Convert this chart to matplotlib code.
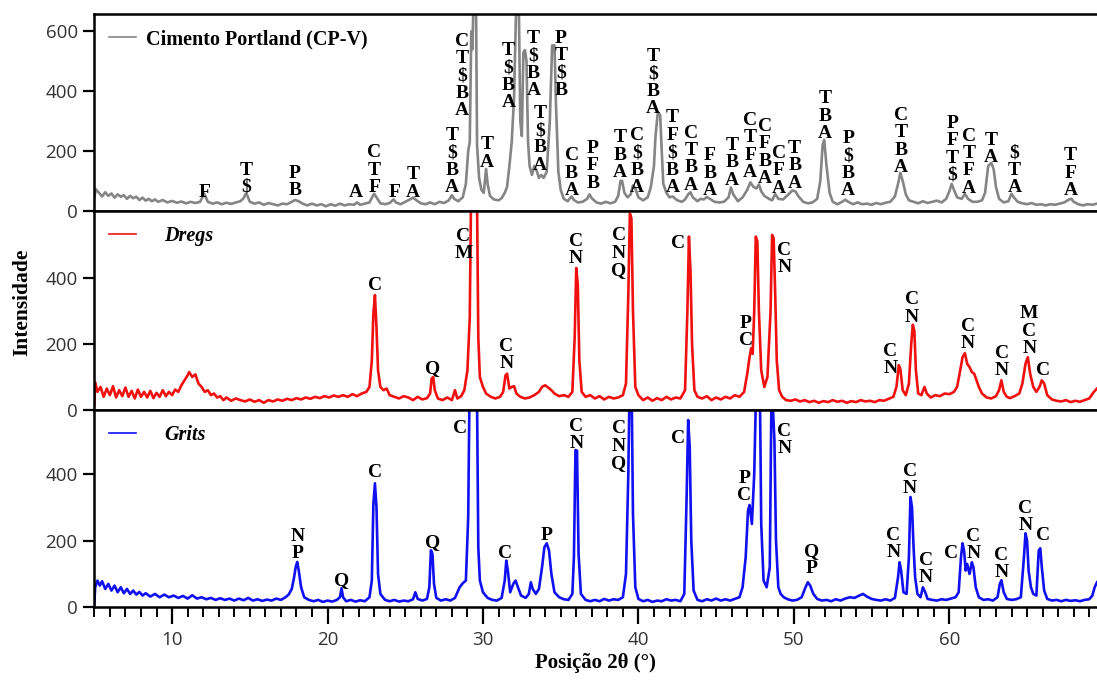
import matplotlib
matplotlib.use("Agg")
import matplotlib.pyplot as plt
from matplotlib.ticker import MultipleLocator

# padrões de DRX (2theta, contagens)
cp_pattern = [
    (5.0, 45), (5.1, 72), (5.3, 60), (5.5, 48), (5.7, 62), (5.9, 50), (6.1, 58), (6.3, 44),
    (6.5, 55), (6.7, 47), (6.9, 52), (7.1, 40), (7.3, 50), (7.5, 42), (7.7, 47), (7.9, 36),
    (8.1, 44), (8.3, 34), (8.5, 40), (8.7, 32), (8.9, 38), (9.1, 30), (9.4, 36), (9.7, 28),
    (10.0, 33), (10.3, 27), (10.6, 31), (10.9, 25), (11.2, 30), (11.5, 26), (11.8, 30),
    (11.95, 45), (12.05, 58), (12.15, 48), (12.3, 30), (12.6, 24), (12.9, 28), (13.2, 22),
    (13.5, 27), (13.8, 23), (14.1, 28), (14.4, 32), (14.6, 42), (14.75, 58), (14.85, 50),
    (15.0, 30), (15.3, 24), (15.6, 28), (15.9, 20), (16.2, 26), (16.5, 22), (16.8, 18),
    (17.1, 24), (17.4, 22), (17.7, 30), (17.9, 36), (18.1, 33), (18.4, 24), (18.7, 18),
    (19.0, 24), (19.3, 18), (19.6, 22), (19.9, 15), (20.2, 22), (20.5, 17), (20.8, 24),
    (21.1, 18), (21.4, 22), (21.7, 20), (21.9, 28), (22.1, 20), (22.4, 24), (22.7, 28),
    (22.9, 48), (23.0, 57), (23.15, 45), (23.4, 25), (23.7, 22), (24.0, 26), (24.25, 38),
    (24.4, 28), (24.7, 22), (25.0, 30), (25.3, 38), (25.5, 44), (25.7, 36), (26.0, 25),
    (26.3, 22), (26.6, 28), (26.9, 22), (27.2, 30), (27.5, 26), (27.8, 35), (28.0, 52),
    (28.15, 40), (28.4, 32), (28.7, 45), (28.9, 90), (29.05, 200), (29.15, 230), (29.25, 600),
    (29.32, 540), (29.4, 720), (29.55, 720), (29.62, 220), (29.75, 110), (29.9, 70), (30.05, 60),
    (30.2, 140), (30.3, 90), (30.45, 50), (30.7, 38), (31.0, 35), (31.2, 42), (31.4, 60),
    (31.55, 80), (31.7, 150), (31.85, 230), (32.0, 380), (32.15, 720), (32.3, 720), (32.4, 300),
    (32.5, 250), (32.6, 530), (32.7, 537), (32.8, 500), (32.9, 230), (33.0, 150), (33.15, 120),
    (33.3, 150), (33.45, 135), (33.6, 110), (33.75, 120), (33.9, 110), (34.1, 130), (34.3, 300),
    (34.45, 553), (34.6, 553), (34.7, 350), (34.85, 130), (35.0, 70), (35.2, 40), (35.45, 32),
    (35.6, 42), (35.7, 48), (35.85, 36), (36.1, 28), (36.4, 30), (36.7, 40), (36.85, 55),
    (37.0, 42), (37.3, 28), (37.6, 24), (37.9, 30), (38.2, 25), (38.5, 30), (38.7, 50),
    (38.85, 100), (38.95, 100), (39.1, 60), (39.3, 45), (39.5, 55), (39.65, 85), (39.8, 75),
    (40.0, 45), (40.3, 35), (40.6, 45), (40.8, 80), (41.0, 150), (41.1, 250), (41.25, 330),
    (41.4, 320), (41.5, 200), (41.6, 90), (41.8, 60), (42.0, 45), (42.2, 48), (42.5, 35),
    (42.8, 30), (43.0, 38), (43.2, 55), (43.35, 62), (43.5, 45), (43.8, 32), (44.0, 40),
    (44.2, 38), (44.4, 46), (44.6, 40), (44.9, 30), (45.2, 28), (45.5, 30), (45.8, 45),
    (45.95, 78), (46.1, 55), (46.4, 32), (46.7, 45), (47.0, 70), (47.2, 95), (47.4, 80),
    (47.6, 75), (47.75, 88), (47.9, 65), (48.1, 50), (48.4, 40), (48.6, 35), (48.8, 56),
    (49.0, 40), (49.3, 38), (49.6, 52), (49.9, 68), (50.1, 65), (50.3, 48), (50.6, 30),
    (50.9, 25), (51.2, 28), (51.5, 40), (51.7, 100), (51.85, 220), (51.95, 237), (52.1, 150),
    (52.3, 60), (52.5, 30), (52.8, 22), (53.1, 30), (53.3, 37), (53.5, 30), (53.8, 22),
    (54.1, 28), (54.4, 22), (54.7, 24), (55.0, 20), (55.3, 26), (55.6, 22), (55.9, 27),
    (56.2, 30), (56.5, 48), (56.7, 90), (56.85, 127), (57.0, 100), (57.2, 55), (57.4, 35),
    (57.7, 30), (58.0, 25), (58.3, 32), (58.6, 26), (58.9, 30), (59.2, 34), (59.5, 28),
    (59.8, 40), (60.0, 65), (60.15, 90), (60.3, 70), (60.5, 45), (60.8, 40), (61.0, 57),
    (61.2, 40), (61.5, 30), (61.8, 30), (62.1, 35), (62.3, 60), (62.5, 150), (62.7, 160),
    (62.85, 140), (63.0, 80), (63.2, 40), (63.5, 28), (63.8, 32), (64.0, 57), (64.15, 45),
    (64.4, 30), (64.7, 25), (65.0, 22), (65.3, 26), (65.6, 20), (65.9, 22), (66.2, 18),
    (66.5, 22), (66.8, 20), (67.1, 24), (67.4, 28), (67.7, 38), (67.85, 40), (68.0, 30),
    (68.3, 22), (68.6, 18), (68.9, 22), (69.2, 20), (69.5, 24),
]

dregs_pattern = [
    (5.0, 15), (5.05, 85), (5.2, 55), (5.4, 70), (5.6, 40), (5.8, 65), (6.0, 45), (6.2, 72),
    (6.4, 38), (6.6, 60), (6.8, 42), (7.0, 68), (7.2, 40), (7.4, 58), (7.6, 35), (7.8, 62),
    (8.0, 40), (8.2, 55), (8.4, 38), (8.6, 58), (8.8, 36), (9.0, 52), (9.2, 40), (9.4, 60),
    (9.6, 42), (9.8, 55), (10.0, 45), (10.2, 62), (10.4, 55), (10.6, 75), (10.8, 90),
    (11.0, 105), (11.1, 115), (11.3, 100), (11.5, 108), (11.7, 80), (11.9, 70), (12.1, 55),
    (12.3, 60), (12.5, 45), (12.7, 50), (12.9, 38), (13.1, 42), (13.3, 30), (13.5, 38),
    (13.8, 28), (14.1, 35), (14.4, 30), (14.7, 26), (15.0, 32), (15.3, 25), (15.6, 30),
    (15.9, 22), (16.2, 30), (16.5, 26), (16.8, 32), (17.1, 28), (17.4, 34), (17.7, 30),
    (18.0, 36), (18.3, 32), (18.6, 38), (18.9, 34), (19.2, 40), (19.5, 36), (19.8, 42),
    (20.1, 38), (20.4, 44), (20.7, 40), (21.0, 45), (21.3, 40), (21.6, 48), (21.9, 42),
    (22.2, 50), (22.5, 55), (22.7, 70), (22.85, 150), (22.95, 290), (23.05, 348), (23.15, 250),
    (23.25, 120), (23.4, 70), (23.6, 60), (23.8, 65), (24.0, 45), (24.3, 40), (24.6, 35),
    (24.9, 42), (25.2, 38), (25.5, 30), (25.8, 40), (26.1, 32), (26.4, 36), (26.6, 50),
    (26.7, 95), (26.8, 100), (26.9, 60), (27.1, 35), (27.4, 30), (27.7, 38), (28.0, 30),
    (28.2, 60), (28.35, 35), (28.6, 42), (28.8, 60), (29.0, 120), (29.15, 280), (29.25, 720),
    (29.6, 720), (29.7, 220), (29.8, 100), (30.0, 70), (30.2, 50), (30.5, 40), (30.8, 35),
    (31.1, 40), (31.3, 55), (31.45, 105), (31.55, 110), (31.7, 65), (31.85, 70), (32.0, 72),
    (32.15, 50), (32.4, 40), (32.7, 35), (33.0, 38), (33.3, 45), (33.6, 55), (33.8, 70),
    (34.0, 75), (34.2, 68), (34.4, 60), (34.6, 50), (34.9, 42), (35.2, 45), (35.5, 40),
    (35.75, 55), (35.9, 220), (36.0, 430), (36.1, 380), (36.2, 150), (36.35, 55), (36.6, 40),
    (36.9, 45), (37.2, 35), (37.5, 42), (37.8, 32), (38.1, 40), (38.4, 35), (38.7, 38),
    (39.0, 45), (39.2, 80), (39.35, 350), (39.45, 595), (39.55, 580), (39.65, 300), (39.8, 70),
    (40.0, 45), (40.3, 30), (40.6, 38), (40.9, 28), (41.2, 36), (41.5, 30), (41.8, 40),
    (42.1, 32), (42.4, 38), (42.7, 35), (43.0, 60), (43.15, 300), (43.25, 525), (43.35, 420),
    (43.45, 200), (43.6, 60), (43.8, 40), (44.1, 35), (44.4, 42), (44.7, 30), (45.0, 38),
    (45.3, 32), (45.6, 40), (45.9, 35), (46.2, 45), (46.5, 40), (46.8, 55), (47.0, 110),
    (47.15, 160), (47.25, 187), (47.35, 170), (47.45, 300), (47.55, 525), (47.65, 510),
    (47.75, 300), (47.9, 120), (48.1, 70), (48.3, 100), (48.5, 300), (48.6, 530), (48.7, 520),
    (48.8, 350), (48.9, 150), (49.05, 60), (49.25, 40), (49.5, 30), (49.8, 28), (50.1, 32),
    (50.4, 26), (50.7, 30), (51.0, 24), (51.3, 28), (51.6, 22), (51.9, 27), (52.2, 24),
    (52.5, 30), (52.8, 25), (53.1, 28), (53.4, 22), (53.7, 27), (54.0, 24), (54.3, 30),
    (54.6, 26), (54.9, 28), (55.2, 24), (55.5, 30), (55.8, 28), (56.1, 34), (56.4, 40),
    (56.6, 70), (56.75, 136), (56.85, 125), (57.0, 60), (57.2, 45), (57.4, 80), (57.55, 200),
    (57.65, 258), (57.75, 240), (57.85, 120), (58.0, 50), (58.2, 45), (58.4, 70), (58.55, 50),
    (58.8, 38), (59.1, 45), (59.4, 42), (59.7, 50), (60.0, 48), (60.3, 55), (60.5, 70),
    (60.7, 120), (60.85, 160), (61.0, 172), (61.15, 140), (61.3, 130), (61.45, 115),
    (61.6, 110), (61.75, 90), (61.9, 70), (62.1, 50), (62.4, 38), (62.7, 35), (63.0, 42),
    (63.2, 60), (63.35, 90), (63.5, 55), (63.7, 40), (63.9, 36), (64.2, 42), (64.5, 50),
    (64.7, 80), (64.9, 140), (65.05, 160), (65.2, 110), (65.4, 70), (65.6, 55), (65.8, 70),
    (65.95, 90), (66.1, 80), (66.3, 45), (66.6, 32), (66.9, 28), (67.2, 26), (67.5, 30),
    (67.8, 24), (68.1, 28), (68.4, 25), (68.7, 30), (69.0, 35), (69.3, 55), (69.5, 65),
]

grits_pattern = [
    (5.0, 10), (5.05, 60), (5.2, 80), (5.35, 65), (5.5, 78), (5.7, 55), (5.9, 70), (6.1, 50),
    (6.3, 65), (6.5, 45), (6.7, 60), (6.9, 42), (7.1, 55), (7.3, 40), (7.5, 50), (7.7, 38),
    (7.9, 46), (8.1, 35), (8.3, 42), (8.6, 32), (8.9, 40), (9.2, 30), (9.5, 38), (9.8, 30),
    (10.1, 35), (10.4, 28), (10.7, 34), (11.0, 26), (11.3, 36), (11.6, 26), (11.9, 30),
    (12.2, 24), (12.5, 28), (12.8, 22), (13.1, 27), (13.4, 22), (13.7, 26), (14.0, 20),
    (14.3, 26), (14.6, 21), (14.9, 28), (15.2, 20), (15.5, 24), (15.8, 19), (16.1, 23),
    (16.4, 20), (16.7, 26), (17.0, 22), (17.3, 30), (17.5, 38), (17.7, 55), (17.85, 90),
    (17.95, 120), (18.05, 136), (18.15, 110), (18.3, 60), (18.5, 30), (18.8, 22), (19.1, 18),
    (19.4, 22), (19.7, 16), (20.0, 20), (20.3, 17), (20.6, 22), (20.8, 30), (20.9, 57),
    (21.0, 30), (21.2, 18), (21.5, 22), (21.8, 17), (22.1, 21), (22.4, 18), (22.7, 30),
    (22.85, 80), (22.95, 310), (23.05, 372), (23.15, 300), (23.25, 100), (23.4, 40), (23.7, 22),
    (24.0, 18), (24.3, 22), (24.6, 17), (24.9, 20), (25.2, 18), (25.5, 24), (25.65, 45),
    (25.8, 25), (26.1, 20), (26.4, 25), (26.55, 60), (26.65, 171), (26.75, 160), (26.85, 70),
    (27.0, 28), (27.3, 20), (27.6, 24), (27.9, 20), (28.2, 28), (28.5, 60), (28.7, 72),
    (28.9, 80), (29.05, 270), (29.15, 720), (29.6, 720), (29.7, 180), (29.8, 80), (30.0, 45),
    (30.3, 28), (30.6, 22), (30.9, 20), (31.2, 28), (31.4, 80), (31.5, 140), (31.6, 110),
    (31.75, 45), (31.95, 70), (32.1, 80), (32.25, 60), (32.45, 35), (32.75, 28), (32.95, 40),
    (33.08, 75), (33.2, 55), (33.4, 40), (33.6, 55), (33.8, 120), (33.95, 180), (34.1, 192),
    (34.25, 170), (34.4, 100), (34.6, 45), (34.9, 30), (35.2, 24), (35.5, 22), (35.75, 40),
    (35.85, 150), (35.95, 472), (36.05, 470), (36.15, 160), (36.3, 40), (36.6, 22), (36.9, 18),
    (37.2, 22), (37.5, 18), (37.8, 25), (38.1, 20), (38.4, 24), (38.7, 22), (39.0, 30),
    (39.2, 100), (39.35, 400), (39.45, 720), (39.55, 720), (39.65, 280), (39.8, 60), (40.0, 25),
    (40.3, 18), (40.6, 22), (40.9, 16), (41.2, 20), (41.5, 18), (41.8, 24), (42.1, 20),
    (42.4, 22), (42.7, 18), (42.95, 40), (43.1, 330), (43.2, 562), (43.3, 480), (43.4, 200),
    (43.55, 50), (43.8, 22), (44.1, 18), (44.4, 24), (44.7, 20), (45.0, 26), (45.3, 20),
    (45.6, 24), (45.9, 20), (46.2, 25), (46.5, 30), (46.7, 60), (46.9, 150), (47.05, 290),
    (47.15, 307), (47.3, 250), (47.45, 400), (47.6, 720), (47.8, 720), (47.9, 250), (48.05, 80),
    (48.25, 60), (48.45, 120), (48.55, 598), (48.65, 600), (48.75, 500), (48.85, 200),
    (49.0, 60), (49.15, 40), (49.35, 30), (49.6, 24), (49.9, 20), (50.2, 22), (50.5, 30),
    (50.75, 60), (50.9, 75), (51.05, 65), (51.25, 40), (51.5, 25), (51.8, 20), (52.1, 22),
    (52.4, 18), (52.7, 24), (53.0, 20), (53.3, 26), (53.6, 30), (53.9, 28), (54.2, 35),
    (54.45, 40), (54.7, 32), (55.0, 25), (55.3, 22), (55.6, 20), (55.9, 24), (56.2, 20),
    (56.5, 28), (56.7, 90), (56.8, 135), (56.9, 110), (57.05, 45), (57.25, 40), (57.4, 150),
    (57.5, 331), (57.6, 300), (57.7, 180), (57.8, 90), (57.95, 40), (58.15, 30), (58.3, 60),
    (58.45, 45), (58.6, 25), (58.9, 22), (59.2, 20), (59.5, 24), (59.8, 22), (60.1, 26),
    (60.4, 30), (60.6, 45), (60.75, 150), (60.85, 192), (60.95, 170), (61.05, 110),
    (61.15, 130), (61.3, 100), (61.45, 135), (61.55, 120), (61.7, 60), (61.9, 30), (62.2, 22),
    (62.5, 24), (62.8, 20), (63.1, 30), (63.25, 70), (63.35, 81), (63.5, 45), (63.7, 25),
    (64.0, 22), (64.3, 24), (64.6, 30), (64.8, 150), (64.9, 222), (65.0, 200), (65.1, 110),
    (65.25, 60), (65.4, 40), (65.6, 35), (65.75, 170), (65.85, 177), (65.95, 120), (66.1, 50),
    (66.3, 25), (66.6, 20), (66.9, 22), (67.2, 18), (67.5, 22), (67.8, 19), (68.1, 21),
    (68.4, 18), (68.7, 22), (69.0, 24), (69.2, 35), (69.35, 60), (69.5, 75),
]

# identificação das fases (texto, 2theta, intensidade da base do texto)
cp_labels = [
    ("F", 12.06, 47), ("T\n\\$", 14.76, 63), ("P\nB", 17.9, 53), ("A", 21.8, 47),
    ("C\nT\nF", 23.0, 63), ("F", 24.3, 47), ("T\nA", 25.5, 47), ("T\n\\$\nB\nA", 28.0, 63),
    ("C\nT\n\\$\nB\nA", 28.65, 320), ("T\nA", 30.25, 147), ("T\n\\$\nB\nA", 31.65, 347),
    ("T\n\\$\nB\nA", 33.25, 387), ("T\n\\$\nB\nA", 33.65, 137), ("P\nT\n\\$\nB", 35.0, 387),
    ("C\nB\nA", 35.7, 53), ("P\nF\nB", 37.06, 77), ("T\nB\nA", 38.8, 113),
    ("C\n\\$\nB\nA", 39.9, 63), ("T\n\\$\nB\nA", 40.95, 327), ("T\nF\n\\$\nB\nA", 42.2, 63),
    ("C\nT\nB\nA", 43.4, 70), ("F\nB\nA", 44.6, 53), ("T\nB\nA", 46.0, 87),
    ("C\nT\nF\nA", 47.2, 113), ("C\nF\nB\nA", 48.12, 93), ("C\nF\nA", 49.02, 60),
    ("T\nB\nA", 50.05, 77), ("T\nB\nA", 52.0, 243), ("P\n\\$\nB\nA", 53.5, 53),
    ("C\nT\nB\nA", 56.9, 130), ("P\nF\nT\n\\$", 60.2, 103), ("C\nT\nF\nA", 61.25, 60),
    ("T\nA", 62.7, 163), ("\\$\nT\nA", 64.2, 63), ("T\nF\nA", 67.8, 53),
]
dregs_labels = [
    ("C", 23.05, 364), ("Q", 26.75, 112), ("C\nM", 28.75, 460), ("C\nN", 31.5, 127),
    ("C\nN", 35.98, 445), ("C\nN\nQ", 38.75, 409), ("C", 42.55, 490), ("P\nC", 46.9, 197),
    ("C\nN", 49.4, 418), ("C\nN", 56.2, 112), ("C\nN", 57.6, 267), ("C\nN", 61.2, 188),
    ("C\nN", 63.4, 106), ("M\nC\nN", 65.15, 172), ("C", 66.05, 106),
]
grits_labels = [
    ("N\nP", 18.1, 147), ("Q", 20.9, 66), ("C", 23.05, 390), ("Q", 26.75, 181),
    ("C", 28.55, 523), ("C", 31.4, 147), ("P", 34.1, 201), ("C\nN", 36.0, 478),
    ("C\nN\nQ", 38.75, 418), ("C", 42.55, 493), ("P\nC", 46.8, 322), ("C\nN", 49.4, 463),
    ("Q\nP", 51.15, 102), ("C\nN", 56.4, 150), ("C\nN", 57.45, 343), ("C\nN", 58.5, 75),
    ("C", 60.1, 147), ("C\nN", 61.55, 147), ("C\nN", 63.35, 90), ("C\nN", 64.9, 232),
    ("C", 66.0, 201),
]

series = [
    ("Cimento Portland (CP-V)", cp_pattern, cp_labels, "#858585", "normal", 0.5, (0, 657), [0, 200, 400, 600]),
    ("Dregs", dregs_pattern, dregs_labels, "#f01010", "italic", 1.4, (0, 603), [0, 200, 400]),
    ("Grits", grits_pattern, grits_labels, "#1010f0", "italic", 1.4, (0, 592), [0, 200, 400]),
]

serif = ["Liberation Serif", "DejaVu Serif"]
tick_font = ["Open Sans", "DejaVu Sans"]

fig = plt.figure(figsize=(10.97, 6.8), dpi=100)
boxes = [[0.086, 0.690, 0.914, 0.289], [0.086, 0.397, 0.914, 0.293], [0.086, 0.107, 0.914, 0.290]]

axes = []
for i, (name, pattern, labels, color, style, gap, ylim, yticks) in enumerate(series):
    ax = fig.add_axes(boxes[i], sharex=axes[0] if axes else None)
    xs = [p[0] for p in pattern]
    ys = [p[1] for p in pattern]
    ax.plot(xs, ys, color=color, lw=1.9, label=name)
    for txt, x, y in labels:
        ax.text(x, y, txt, ha="center", va="baseline", fontsize=14, fontweight="bold",
                family=serif, linespacing=1.03, color="black")
    ax.set_ylim(*ylim)
    ax.set_yticks(yticks)
    for side in ["top", "left", "bottom"]:
        ax.spines[side].set_linewidth(1.8)
    ax.spines["right"].set_visible(False)
    ax.tick_params(axis="y", direction="out", length=8, width=1.6, pad=4, labelsize=13.5,
                   labelcolor="#333333")
    for lab in ax.get_yticklabels():
        lab.set_family(tick_font)
    leg = ax.legend(loc="upper left", frameon=False, handlelength=1.3, handletextpad=gap,
                    bbox_to_anchor=(0.0, 1.0), borderaxespad=0.35,
                    prop={"family": serif, "weight": "bold", "style": style, "size": 14.5})
    for h in leg.get_lines():
        h.set_linewidth(1.2)
    axes.append(ax)

axes[0].set_xlim(5, 69.5)
for ax in axes[:2]:
    ax.tick_params(axis="x", which="both", bottom=False, labelbottom=False)

bottom_ax = axes[2]
bottom_ax.xaxis.set_major_locator(MultipleLocator(10))
bottom_ax.xaxis.set_minor_locator(MultipleLocator(1))
bottom_ax.tick_params(axis="x", which="major", direction="out", length=12, width=1.6, pad=5,
                      labelsize=13.5, labelcolor="#333333")
bottom_ax.tick_params(axis="x", which="minor", direction="out", length=7, width=1.4)
for lab in bottom_ax.get_xticklabels():
    lab.set_family(tick_font)

bottom_ax.set_xlabel("Posição 2θ (°)", family=serif, fontweight="bold", fontsize=15, labelpad=3)
fig.text(0.02, 0.555, "Intensidade", rotation=90, ha="center", va="center",
         family=serif, fontweight="bold", fontsize=15.5)

fig.savefig("out.png", dpi=100)
